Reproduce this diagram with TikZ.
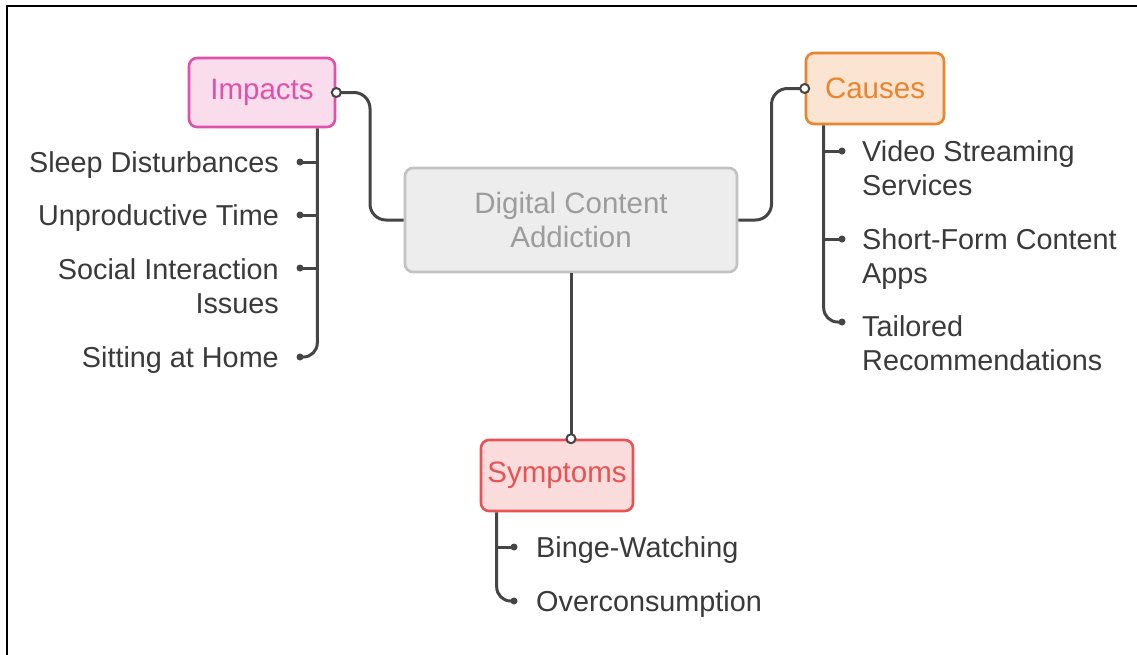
\documentclass[tikz,border=0pt]{standalone}
\usepackage{fontspec}
\setmainfont{Liberation Sans}
\usetikzlibrary{calc}

\definecolor{linegray}{HTML}{454545}
\definecolor{labelgray}{HTML}{3A3A3A}
\definecolor{impactline}{HTML}{E052A8}
\definecolor{impactfill}{HTML}{F9DDEC}
\definecolor{causeline}{HTML}{E8852D}
\definecolor{causefill}{HTML}{FBE4D1}
\definecolor{symline}{HTML}{E85252}
\definecolor{symfill}{HTML}{FADCDC}
\definecolor{coreline}{HTML}{C2C2C2}
\definecolor{corefill}{HTML}{EDEDED}
\definecolor{coretext}{HTML}{9C9C9C}

\tikzset{
  txt/.style={font=\fontsize{28.8}{34}\selectfont},
  topic/.style={font=\fontsize{29.5}{34}\selectfont, draw, rounded corners=8,
    line width=2.6, inner sep=0, align=center},
  conn/.style={draw=linegray, line width=3},
  port/.style={circle, draw=linegray, fill=white, line width=2, inner sep=0,
    minimum size=9},
  bullet/.style={circle, fill=linegray, inner sep=0, minimum size=7},
  leftlabel/.style={txt, text=labelgray, anchor=north east, align=right,
    inner sep=0},
  rightlabel/.style={txt, text=labelgray, anchor=north west, align=left,
    inner sep=0},
}

\begin{document}
\begin{tikzpicture}[x=1pt, y=-1pt]
  \useasboundingbox (0,0) rectangle (1137,654);
  \fill[white] (0,0) rectangle (1137,654);
  % frame
  \draw[line width=2.6, black] (7,660) -- (7,6) -- (1140,6);

  % topics
  \node[topic, draw=coreline, fill=corefill, text=coretext,
    minimum width=332, minimum height=104] (core) at (571,220)
    {Digital Content\\Addiction};
  \node[topic, draw=impactline, fill=impactfill, text=impactline,
    minimum width=146, minimum height=69] (impacts) at (262,92.5) {Impacts};
  \node[topic, draw=causeline, fill=causefill, text=causeline,
    minimum width=138, minimum height=71] (causes) at (875,88.5) {Causes};
  \node[topic, draw=symline, fill=symfill, text=symline,
    minimum width=152, minimum height=71] (symptoms) at (557,475.5) {Symptoms};

  % branch ports and trunk starts
  \coordinate (impstem) at ([xshift=-19]impacts.south east);
  \coordinate (causestem) at ([xshift=19]causes.south west);
  \coordinate (symstem) at ([xshift=17]symptoms.south west);

  % bullets
  \node[bullet] (i1) at (300,162) {};
  \node[bullet] (i2) at (300,215) {};
  \node[bullet] (i3) at (300,268) {};
  \node[bullet] (i4) at (300,357) {};
  \node[bullet] (c1) at (842,151) {};
  \node[bullet] (c2) at (842,239) {};
  \node[bullet] (c3) at (842,322) {};
  \node[bullet] (s1) at (514,547) {};
  \node[bullet] (s2) at (514,601) {};

  % connectors from the core topic
  \draw[conn, rounded corners=16] (impacts.east)
    -| ($(impacts.east)!0.5!(core.west)$) |- (core.west);
  \draw[conn, rounded corners=16] (causes.west)
    -| ($(causes.west)!0.5!(core.east)$) |- (core.east);
  \draw[conn] (core.south) -- (core.south |- symptoms.north);

  % trunks and branches
  \draw[conn, rounded corners=14] (impstem) |- (i4.center);
  \foreach \b in {i1,i2,i3} \draw[conn] (impstem |- \b) -- (\b.center);
  \draw[conn, rounded corners=14] (causestem) |- (c3.center);
  \foreach \b in {c1,c2} \draw[conn] (causestem |- \b) -- (\b.center);
  \draw[conn, rounded corners=14] (symstem) |- (s2.center);
  \draw[conn] (symstem |- s1) -- (s1.center);

  % ports
  \node[port] (impport) at (impacts.east) {};
  \node[port] (causeport) at (causes.west) {};
  \node[port] (symport) at (core.south |- symptoms.north) {};

  % labels
  \node[leftlabel] (li1) at ([xshift=-21, yshift=13.8]i1) {\strut Sleep Disturbances};
  \node[leftlabel] (li2) at ([xshift=-21, yshift=13.8]i2) {\strut Unproductive Time};
  \node[leftlabel] (li3) at ([xshift=-21, yshift=12.8]i3) {\strut Social Interaction\\Issues};
  \node[leftlabel] (li4) at ([xshift=-21, yshift=13.8]i4) {\strut Sitting at Home};
  \node[rightlabel] (lc1) at ([xshift=20, yshift=13.8]c1) {\strut Video Streaming\\Services};
  \node[rightlabel] (lc2) at ([xshift=20, yshift=13.8]c2) {\strut Short-Form Content\\Apps};
  \node[rightlabel] (lc3) at ([xshift=20, yshift=10]c3) {\strut Tailored\\Recommendations};
  \node[rightlabel] (ls1) at ([xshift=22, yshift=13.8]s1) {\strut Binge-Watching};
  \node[rightlabel] (ls2) at ([xshift=22, yshift=13.8]s2) {\strut Overconsumption};
\end{tikzpicture}
\end{document}
